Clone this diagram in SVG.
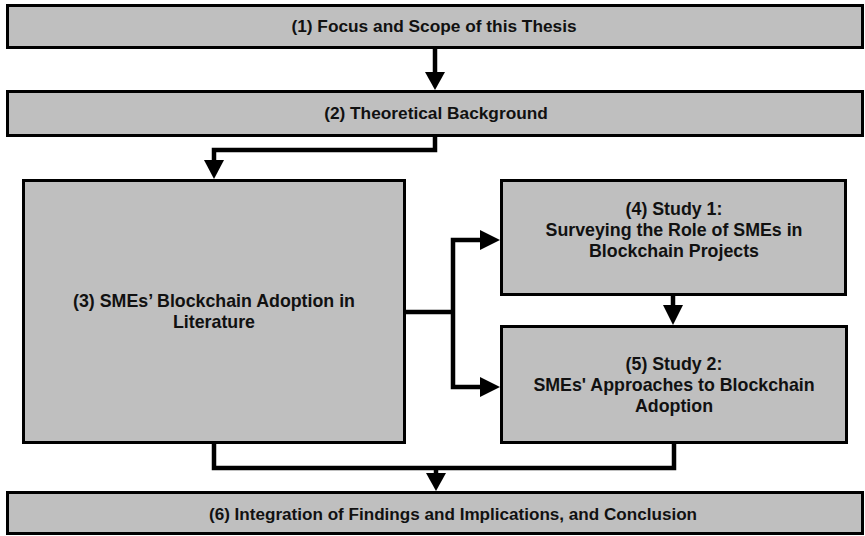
<svg xmlns="http://www.w3.org/2000/svg" width="865" height="536" viewBox="0 0 865 536">
  <defs>
    <style>
      .box { fill: #bfbfbf; stroke: #000; stroke-width: 3; }
      .lbl { font-family: "Liberation Sans", Arial, sans-serif; font-weight: bold; font-size: 17.3px; fill: #111; text-anchor: middle; }
      .big { font-size: 17.8px; }
      .small { font-size: 17.1px; }
      .wire { fill: none; stroke: #000; stroke-width: 4.5; stroke-linejoin: miter; stroke-linecap: butt; }
      .head { fill: #000; stroke: none; }
    </style>
  </defs>
  <rect width="865" height="536" fill="#fff"/>

  <g id="node1">
    <rect class="box" x="7.5" y="5.5" width="855" height="42"/>
    <text class="lbl" x="434" y="32">(1) Focus and Scope of this Thesis</text>
  </g>

  <g id="node2">
    <rect class="box" x="7.5" y="91.5" width="855" height="44"/>
    <text class="lbl" x="436" y="119">(2) Theoretical Background</text>
  </g>

  <g id="node3">
    <rect class="box" x="23.5" y="180.5" width="381" height="262"/>
    <text class="lbl big" x="214" y="307">(3) SMEs’ Blockchain Adoption in</text>
    <text class="lbl big" x="214" y="328">Literature</text>
  </g>

  <g id="node4">
    <rect class="box" x="501.5" y="180.5" width="344" height="114"/>
    <text class="lbl big" x="674" y="215">(4) Study 1:</text>
    <text class="lbl big" x="674" y="236">Surveying the Role of SMEs in</text>
    <text class="lbl big" x="674" y="257">Blockchain Projects</text>
  </g>

  <g id="node5">
    <rect class="box" x="501.5" y="326.5" width="345" height="116"/>
    <text class="lbl big" x="674" y="370">(5) Study 2:</text>
    <text class="lbl big" x="674" y="391">SMEs' Approaches to Blockchain</text>
    <text class="lbl big" x="674" y="412">Adoption</text>
  </g>

  <g id="node6">
    <rect class="box" x="7.5" y="492.5" width="855" height="41"/>
    <text class="lbl small" x="453" y="520">(6) Integration of Findings and Implications, and Conclusion</text>
  </g>

  <g id="connectors">
    <!-- 1 to 2 -->
    <path class="wire" d="M435,49 V73"/>
    <polygon class="head" points="425,72 445,72 435,90"/>
    <!-- 2 to 3 -->
    <path class="wire" d="M435,137 V150 H214 V161"/>
    <polygon class="head" points="204,160 224,160 214,179"/>
    <!-- 3 branching to 4 and 5 -->
    <path class="wire" d="M406,312 H453"/>
    <path class="wire" d="M481,240 H453 V387 H481"/>
    <polygon class="head" points="480,230 480,250 500,240"/>
    <polygon class="head" points="480,377 480,397 500,387"/>
    <!-- 4 to 5 -->
    <path class="wire" d="M673,296 V306"/>
    <polygon class="head" points="663,305 683,305 673,325"/>
    <!-- 3 and 5 merging into 6 -->
    <path class="wire" d="M214,444 V468 H674 V444"/>
    <path class="wire" d="M436,468 V474"/>
    <polygon class="head" points="426,473 446,473 436,491"/>
  </g>
</svg>
